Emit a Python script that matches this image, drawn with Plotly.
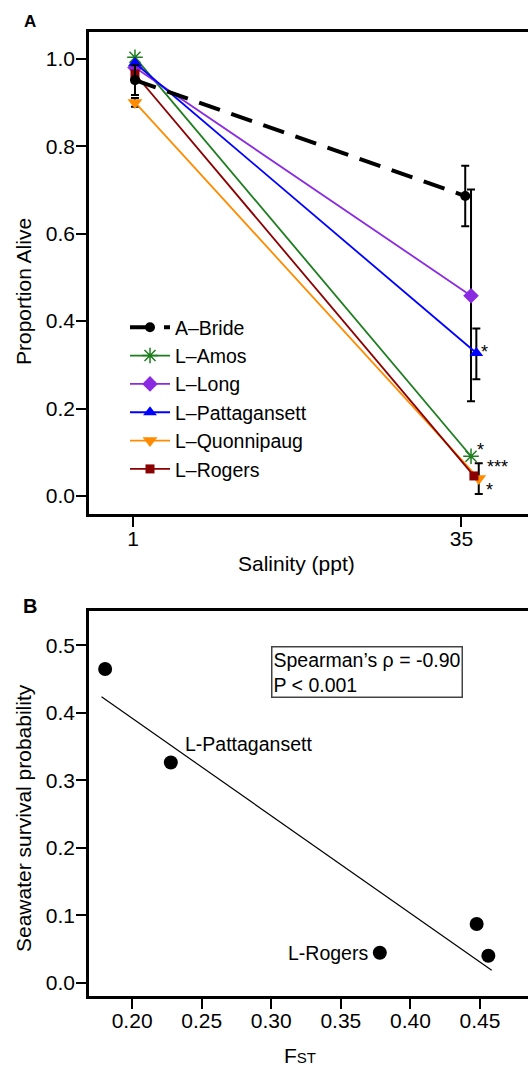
import numpy as np
import plotly.graph_objects as go

# ---------------- Data: panel A ----------------
salinity = [1, 35]
series_names = ["A–Bride", "L–Amos", "L–Long", "L–Pattagansett", "L–Quonnipaug", "L–Rogers"]
bride = [0.951, 0.686]
amos = [1.003, 0.091]
long_ = [0.980, 0.458]
patt = [0.990, 0.327]
quon = [0.900, 0.040]
rogers = [0.965, 0.046]

bride_err_up = [0.034, 0.069]
bride_err_dn = [0.034, 0.069]
long_err_up = [0.0, 0.243]
long_err_dn = [0.0, 0.241]
patt_err_up = [0.0, 0.056]
patt_err_dn = [0.0, 0.060]
quon_err_up = [0.010, 0.035]
quon_err_dn = [0.010, 0.035]

signif_patt = "*"
signif_amos = "*"
signif_rogers = "***"
signif_quon = "*"

# ---------------- Data: panel B ----------------
fst = [0.1806, 0.2278, 0.378, 0.4476, 0.456]
survival = [0.465, 0.3265, 0.0444, 0.087, 0.040]
point_labels = ["", "L-Pattagansett", "L-Rogers", "", ""]

W, H = 528, 1067
def px(x):
    return x / W
def py(y):
    return 1 - y / H

# axis ranges (layout)
xA = [-3.56, 41.9]
yA = [-0.041, 1.061]
xB = [0.169, 0.4845]
yB = [-0.0197, 0.551]

HELV = "Liberation Sans, Arial, Helvetica, sans-serif"

fig = go.Figure()

styles = {
    "A–Bride": dict(color="black", symbol="circle", size=10, dash="22px,12px", width=4, dodge=0.4),
    "L–Amos": dict(color="#1e7d1e", symbol="asterisk-open", size=13, dash="solid", width=1.8, dodge=1.0),
    "L–Long": dict(color="#8a2be2", symbol="diamond", size=12, dash="solid", width=1.8, dodge=1.0),
    "L–Pattagansett": dict(color="#0000ff", symbol="triangle-up", size=12, dash="solid", width=1.8, dodge=1.55),
    "L–Quonnipaug": dict(color="#ff8c00", symbol="triangle-down", size=13, dash="solid", width=1.8, dodge=1.8),
    "L–Rogers": dict(color="#8b0000", symbol="square", size=9, dash="solid", width=1.8, dodge=1.3),
}
values = {"A–Bride": bride, "L–Amos": amos, "L–Long": long_, "L–Pattagansett": patt,
          "L–Quonnipaug": quon, "L–Rogers": rogers}
errs = {"A–Bride": (bride_err_up, bride_err_dn), "L–Long": (long_err_up, long_err_dn),
        "L–Pattagansett": (patt_err_up, patt_err_dn), "L–Quonnipaug": (quon_err_up, quon_err_dn)}

draw_order = ["L–Amos", "L–Long", "L–Pattagansett", "L–Quonnipaug", "L–Rogers", "A–Bride"]
for name in draw_order:
    st = styles[name]
    xs = [salinity[0] + 0.2, salinity[1] + st["dodge"]]
    marker = dict(color=st["color"], symbol=st["symbol"], size=st["size"])
    if st["symbol"] == "asterisk-open":
        marker["line"] = dict(color=st["color"], width=1.5)
    kw = {}
    if name in errs:
        up, dn = errs[name]
        kw["error_y"] = dict(type="data", array=up, arrayminus=dn, color="black",
                             thickness=2, width=4, symmetric=False)
    fig.add_trace(go.Scatter(
        x=xs, y=values[name], name=name, mode="lines+markers",
        line=dict(color=st["color"], width=st["width"], dash=st["dash"]),
        marker=marker, xaxis="x", yaxis="y",
        legendrank=series_names.index(name) + 1, **kw))

# significance stars (positions in data space of panel A)
def star(x, y, text, xanchor="center"):
    fig.add_annotation(x=x, y=y, xref="x", yref="y", text=text, showarrow=False,
                       font=dict(family=HELV, size=18, color="black"),
                       xanchor=xanchor, yanchor="middle", align="left", borderpad=0)

star(37.38, 0.330, signif_patt)
star(36.97, 0.1045, signif_amos)
star(37.55, 0.0675, signif_rogers, xanchor="left")
star(37.95, 0.0150, signif_quon)

# ---------------- Panel B ----------------
fig.add_trace(go.Scatter(x=fst, y=survival, mode="markers", showlegend=False,
                         marker=dict(color="black", size=14), xaxis="x2", yaxis="y2"))
slope, intercept = np.polyfit(fst, survival, 1)
fx = np.array([min(fst) - 0.0026, max(fst) + 0.0024])
fig.add_trace(go.Scatter(x=fx, y=slope * fx + intercept, mode="lines", showlegend=False,
                         line=dict(color="black", width=1.2), xaxis="x2", yaxis="y2"))

fig.add_annotation(x=fst[1], y=survival[1], xref="x2", yref="y2", text=point_labels[1],
                   showarrow=False, xanchor="left", yanchor="middle", xshift=12, yshift=18,
                   font=dict(family=HELV, size=19.5, color="black"))
fig.add_annotation(x=fst[2], y=survival[2], xref="x2", yref="y2", text=point_labels[2],
                   showarrow=False, xanchor="right", yanchor="middle", xshift=-10,
                   font=dict(family=HELV, size=19.5, color="black"))

fig.add_annotation(x=px(271), y=py(646), xref="paper", yref="paper",
                   text="Spearman’s ρ = -0.90<br>P &lt; 0.001", showarrow=False,
                   xanchor="left", yanchor="top", align="left",
                   bordercolor="#444", borderwidth=1.5, borderpad=1,
                   font=dict(family=HELV, size=19.5, color="black"))

# panel letters and axis titles
def label(x, y, text, size, angle=0, family=HELV):
    fig.add_annotation(x=px(x), y=py(y), xref="paper", yref="paper", text=text,
                       showarrow=False, textangle=angle, xanchor="center", yanchor="middle",
                       font=dict(family=family, size=size, color="black"))

label(30, 21, "<b>A</b>", 17)
label(30, 606, "<b>B</b>", 20)
label(23, 292, "Proportion Alive", 21, -90)
label(296, 563, "Salinity (ppt)", 21)
label(23, 818, "Seawater survival probability", 21, -90)
label(300, 1055, "F<span style='font-size:15px'>ST</span>", 21)

axis_common = dict(showline=True, linecolor="black", linewidth=2.5, ticks="outside",
                   ticklen=10, tickwidth=2, tickcolor="black", showgrid=False, zeroline=False,
                   tickfont=dict(family=HELV, size=21, color="black"))

fig.update_layout(
    width=W, height=H, margin=dict(l=0, r=0, t=0, b=0),
    paper_bgcolor="white", plot_bgcolor="white",
    xaxis=dict(domain=[px(89), 1.0], range=xA, tickvals=salinity, anchor="y", mirror=True,
               ticklabelstandoff=-6, **axis_common),
    yaxis=dict(domain=[py(514), py(32)], range=yA, tickvals=[0, 0.2, 0.4, 0.6, 0.8, 1.0],
               tickformat=".1f", anchor="x", ticklabelstandoff=-3, **axis_common),
    xaxis2=dict(domain=[px(89), 1.0], range=xB, tickvals=[0.20, 0.25, 0.30, 0.35, 0.40, 0.45],
                tickformat=".2f", anchor="y2", mirror=True, ticklabelstandoff=-6, **axis_common),
    yaxis2=dict(domain=[py(996), py(611)], range=yB, tickvals=[0, 0.1, 0.2, 0.3, 0.4, 0.5],
                tickformat=".1f", anchor="x2", ticklabelstandoff=-3, **axis_common),
    legend=dict(x=px(125), y=py(308), xanchor="left", yanchor="top",
                bgcolor="rgba(0,0,0,0)", font=dict(family=HELV, size=19.5, color="black"),
                itemwidth=40, tracegroupgap=0),
    showlegend=True,
)

fig.write_html("out.html", config={"displayModeBar": False},
               post_script="document.body.style.margin='0px';document.body.style.overflow='hidden';")
